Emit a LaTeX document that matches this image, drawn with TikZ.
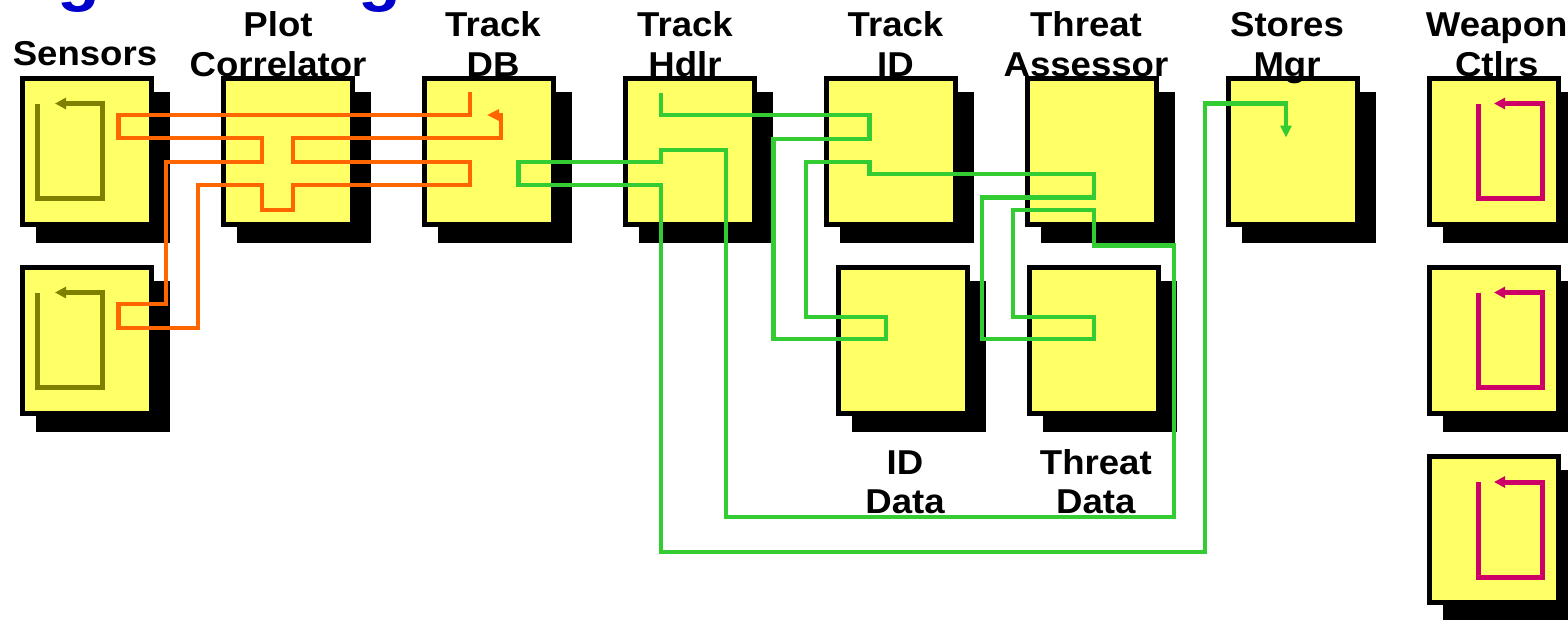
\documentclass[tikz,border=0pt]{standalone}
\usepackage{fontspec}
\newfontfamily\lblfont{Liberation Sans}[FakeStretch=1.06]
\usetikzlibrary{arrows.meta}
\definecolor{boxyellow}{RGB}{255,255,102}
\definecolor{olivec}{RGB}{128,128,0}
\definecolor{crimsonc}{RGB}{204,0,102}
\definecolor{orangec}{RGB}{255,102,0}
\definecolor{greenc}{RGB}{51,204,51}
\definecolor{titleblue}{RGB}{0,0,204}
% name, outer left, outer top
\newcommand\shbox[3]{%
  \fill[black] (#2+16,#3+16) rectangle (#2+150,#3+167);
  \node[boxst] (#1) at (#2+67,#3+75.5) {};}
\begin{document}
\begin{tikzpicture}[x=1pt,y=-1pt,
  boxst/.style={draw=black, fill=boxyellow, line width=5pt, minimum width=129pt,
    minimum height=146pt, inner sep=0pt, outer sep=0pt},
  lbl/.style={font=\lblfont\bfseries\fontsize{34.5}{39}\selectfont, anchor=base, inner sep=0pt},
  ttl/.style={font=\lblfont\bfseries\fontsize{66}{70}\selectfont, text=titleblue, anchor=base, inner sep=0pt},
  wire/.style={line width=4.3pt, line join=miter},
  orangewire/.style={wire, draw=orangec, -{Triangle[length=12pt,width=11pt]}},
  greenwire/.style={wire, draw=greenc, -{Triangle[length=12pt,width=11pt]}},
  selfloop/.style={line width=5pt, line join=miter, -{Triangle[length=11pt,width=11pt]}},
  sensloop/.style={selfloop, draw=olivec},
  weaploop/.style={selfloop, draw=crimsonc}]
\useasboundingbox (0,0) rectangle (1568,619);
\fill[white] (0,0) rectangle (1568,619);

% title fragments (cut off at the top)
\node[ttl] (tg1) at (79,-2) {g};
\node[ttl] (tg2) at (380,-2) {g};

% boxes
\shbox{sens1}{20}{75.5}
\shbox{plot}{221}{75.5}
\shbox{tdb}{422}{75.5}
\shbox{hdlr}{623}{75.5}
\shbox{tid}{824}{75.5}
\shbox{threat}{1025}{75.5}
\shbox{stores}{1226}{75.5}
\shbox{weap1}{1427}{75.5}
\shbox{sens2}{20}{264.5}
\shbox{iddata}{836}{264.5}
\shbox{thdata}{1027}{264.5}
\shbox{weap2}{1427}{264.5}
\shbox{weap3}{1427}{454}

% self loops
\draw[sensloop, shift={(sens1.center)}] (-49.5,-47.5) -- (-49.5,47.5) -- (15.5,47.5) -- (15.5,-47.5) -- (-32,-47.5);
\draw[sensloop, shift={(sens2.center)}] (-49.5,-47.5) -- (-49.5,47.5) -- (15.5,47.5) -- (15.5,-47.5) -- (-32,-47.5);
\draw[weaploop, shift={(weap1.center)}] (-16,-47.5) -- (-16,47.5) -- (48,47.5) -- (48,-47.5) -- (0,-47.5);
\draw[weaploop, shift={(weap2.center)}] (-16,-47.5) -- (-16,47.5) -- (48,47.5) -- (48,-47.5) -- (0,-47.5);
\draw[weaploop, shift={(weap3.center)}] (-16,-47.5) -- (-16,47.5) -- (48,47.5) -- (48,-47.5) -- (0,-47.5);

% orange connector: Track DB -> Sensors -> Plot Correlator -> Track DB
\coordinate (oS) at (470,92);
\coordinate (oE) at (487,115);
\draw[orangewire] (oS) -- (470,115) -- (118.6,115) -- (118.6,138) -- (262,138) -- (262,162)
  -- (165.7,162) -- (165.7,304) -- (118.6,304) -- (118.6,328) -- (198,328) -- (198,185)
  -- (262,185) -- (262,210) -- (293,210) -- (293,185) -- (470,185) -- (470,162)
  -- (293,162) -- (293,138) -- (501,138) -- (501,115) -- (oE);

% green connector: Track Hdlr -> ... -> Stores Mgr
\coordinate (gS) at (661,93);
\coordinate (gE) at (1286,137.5);
\draw[greenwire] (gS) -- (661,115) -- (869.5,115) -- (869.5,139) -- (773.5,139) -- (773.5,339)
  -- (886,339) -- (886,316.7) -- (806,316.7) -- (806,162) -- (869.5,162) -- (869.5,174)
  -- (1094,174) -- (1094,197.5) -- (982,197.5) -- (982,339) -- (1094,339) -- (1094,316.7)
  -- (1013,316.7) -- (1013,210) -- (1094,210) -- (1094,245.5) -- (1174,245.5) -- (1174,516.7)
  -- (726,516.7) -- (726,150) -- (661,150) -- (661,162) -- (518.6,162) -- (518.6,185)
  -- (661,185) -- (661,552) -- (1205,552) -- (1205,103.5) -- (1286,103.5) -- (gE);

% labels
\node[lbl] (lsens) at (85,65.5) {Sensors};
\node[lbl] (lplotA) at (278,36.7) {Plot};
\node[lbl] (lplotB) at (278,76) {Correlator};
\node[lbl] (ltdbA) at (493,36.7) {Track};
\node[lbl] (ltdbB) at (493,76) {DB};
\node[lbl] (lhdlrA) at (685,36.7) {Track};
\node[lbl] (lhdlrB) at (685,76) {Hdlr};
\node[lbl] (ltidA) at (895.5,36.7) {Track};
\node[lbl] (ltidB) at (895.5,76) {ID};
\node[lbl] (lthrA) at (1086,36.7) {Threat};
\node[lbl] (lthrB) at (1086,76) {Assessor};
\node[lbl] (lstA) at (1287,36.7) {Stores};
\node[lbl] (lstB) at (1287,76) {Mgr};
\node[lbl] (lwpA) at (1496.7,36.7) {Weapon};
\node[lbl] (lwpB) at (1496.7,76) {Ctlrs};
\node[lbl] (lidA) at (905,474) {ID};
\node[lbl] (lidB) at (905,513.3) {Data};
\node[lbl] (ltdA) at (1095.8,474) {Threat};
\node[lbl] (ltdB) at (1095.8,513.3) {Data};
\end{tikzpicture}
\end{document}
